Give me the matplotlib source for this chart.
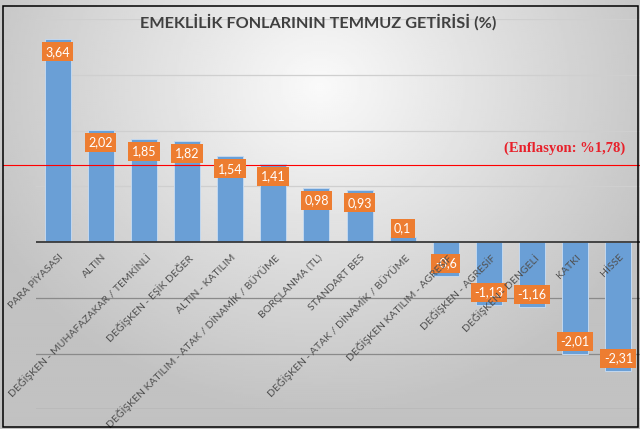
import numpy as np
import matplotlib.pyplot as plt
import matplotlib.transforms as mtransforms
from matplotlib.patches import Rectangle

# fund categories and July returns (%)
categories = [
    "PARA PİYASASI",
    "ALTIN",
    "DEĞİŞKEN - MUHAFAZAKAR / TEMKİNLİ",
    "DEĞİŞKEN - EŞİK DEĞER",
    "ALTIN - KATILIM",
    "DEĞİŞKEN KATILIM - ATAK / DİNAMİK / BÜYÜME",
    "BORÇLANMA (TL)",
    "STANDART BES",
    "DEĞİŞKEN - ATAK / DİNAMİK / BÜYÜME",
    "DEĞİŞKEN KATILIM - AGRESİF",
    "DEĞİŞKEN - AGRESİF",
    "DEĞİŞKEN - DENGELİ",
    "KATKI",
    "HİSSE",
]
returns = [3.64, 2.02, 1.85, 1.82, 1.54, 1.41, 0.98, 0.93, 0.1,
           -0.6, -1.13, -1.16, -2.01, -2.31]
title = "EMEKLİLİK FONLARININ TEMMUZ GETİRİSİ (%)"
inflation_text = "(Enflasyon: %1,78)"
inflation_line = 1.39  # where the red line is drawn in the original
y_ticks = list(range(-3, 5))

W, H = 640, 429
fig = plt.figure(figsize=(6.4, 4.29), dpi=100)

# background: soft radial gradient
bg = fig.add_axes([0, 0, 1, 1], zorder=-10)
gx, gy = np.meshgrid(np.linspace(0, 1, 320), np.linspace(0, 1, 215))
r = np.sqrt(((gx - 0.5) * 1.0) ** 2 + ((gy - 0.2) * 0.75) ** 2)
shade = np.clip(0.98 - 0.38 * r, 0.76, 0.98)
bg.imshow(shade, cmap="gray", vmin=0, vmax=1, aspect="auto",
          extent=[0, 1, 1, 0], interpolation="bilinear")
bg.set_axis_off()

# outer frame
fig.patches.append(Rectangle((2.5 / W, 2 / H), 635 / W, 421 / H,
                             transform=fig.transFigure, fill=False,
                             edgecolor="black", linewidth=1.1, zorder=5))

ax = fig.add_axes([36 / W, (H - 409.3) / H, (640 - 36) / W, 390 / H])
ax.set_facecolor("none")
x = np.arange(len(categories))
ax.set_xlim(-0.5, len(categories) - 0.5)
ax.set_ylim(-3, 4)

for yv in y_ticks:
    if yv == 0:
        continue
    ax.axhline(yv, color="#cfcfcf" if yv > 0 else "#8a8a8a",
               linewidth=0.9, zorder=0)

ax.bar(x, returns, width=0.6, color="#6a9fd6", edgecolor="#c3d8ef",
       linewidth=0.7, zorder=2)
ax.axhline(0, color="#3a3a3a", linewidth=1.3, zorder=3)

# red inflation reference line, runs out to the frame
ax.axhline(inflation_line, xmin=-(36 - 2.5) / 604, xmax=1, color="#ff0000",
           linewidth=0.8, clip_on=False, zorder=4)
ax.text(0.976, inflation_line + 0.3, inflation_text, transform=ax.get_yaxis_transform(),
        ha="right", va="center", family="Liberation Serif", fontweight="bold",
        fontsize=10.5, color="#e8202a")

# value labels
for xi, v in zip(x, returns):
    if abs(v) < 0.3:
        off = 6
    else:
        off = -9 if v > 0 else 9
    ax.annotate(f"{v}".replace(".", ","), (xi, v), xytext=(0, off),
                textcoords="offset points", ha="center", va="center",
                fontsize=9, color="white", family="Lato", zorder=6,
                bbox=dict(boxstyle="square,pad=0.28", fc="#ed7d31", ec="none"))

fig.text(318.5 / W, 1 - 22 / H, title, family="Lato", fontweight="bold",
         fontsize=11.7, color="#404040", ha="center", va="center")

# size the category font so the long labels span as in the original
probe = fig.text(0, 0, categories[2], family="Lato", fontsize=10)
probe_w = probe.get_window_extent(fig.canvas.get_renderer()).width
probe.remove()
tick_size = 10 * 195 / probe_w

ax.set_yticks([])
for s in ["left", "right", "top"]:
    ax.spines[s].set_visible(False)
ax.spines["bottom"].set_position(("data", 0))
ax.spines["bottom"].set_visible(False)
ax.set_xticks(x)
ax.set_xticklabels(categories, rotation=45, ha="right", rotation_mode="anchor",
                   fontsize=tick_size, color="#505050", family="Lato")
ax.tick_params(axis="x", length=0, pad=7.5)
ax.xaxis.set_zorder(10)
shift = mtransforms.ScaledTranslation(1 / 100, 0, fig.dpi_scale_trans)
for lab in ax.get_xticklabels():
    lab.set_transform(lab.get_transform() + shift)

fig.savefig("out.png", dpi=100)
